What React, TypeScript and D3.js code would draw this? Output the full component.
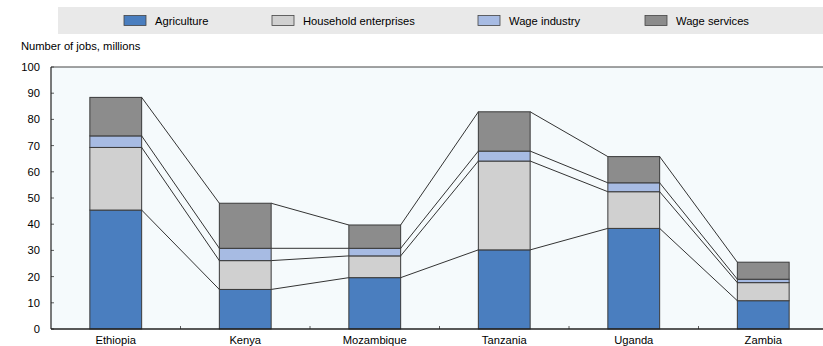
import React from "react";
import * as d3 from "d3";

const countries = ["Ethiopia", "Kenya", "Mozambique", "Tanzania", "Uganda", "Zambia"];
const agriculture = [45.4, 15.1, 19.6, 30.2, 38.4, 10.8];
const householdEnterprises = [23.9, 11.0, 8.3, 33.9, 14.0, 6.9];
const wageIndustry = [4.4, 4.7, 2.9, 3.8, 3.4, 1.3];
const wageServices = [14.7, 17.2, 8.9, 15.0, 10.0, 6.5];
const seriesNames = ["Agriculture", "Household enterprises", "Wage industry", "Wage services"];
const yTicks = [0, 10, 20, 30, 40, 50, 60, 70, 80, 90, 100];

const colors = ["#4A7EBF", "#D0D0D0", "#A7BBE3", "#8C8C8C"];
const FONT = "'Liberation Sans Narrow', 'Arial Narrow', 'Liberation Sans', Arial, sans-serif";

export default function App() {
  const W = 823, H = 346;
  const x0 = 51, x1 = 828, yTop = 67, yBot = 329;
  const x = d3.scaleBand<string>().domain(countries).range([x0, x1]).paddingInner(0.6).paddingOuter(0.3);
  const y = d3.scaleLinear().domain([0, 100]).range([yBot, yTop]);
  const seriesVals = [agriculture, householdEnterprises, wageIndustry, wageServices];
  const rows = countries.map((c, i) => {
    const r: any = { country: c };
    seriesNames.forEach((s, k) => (r[s] = seriesVals[k][i]));
    return r;
  });
  const stacked = d3.stack<any>().keys(seriesNames)(rows);
  const bw = x.bandwidth();
  const step = x.step();

  const legendX = [124, 272, 478, 645];
  const fs = 11.2;

  return (
    <svg width={W} height={H} style={{ position: "absolute", left: 0, top: 0, fontFamily: FONT }}>
      <rect x={0} y={0} width={W} height={H} fill="#fff" />
      {/* legend */}
      <rect x={58} y={7} width={W - 58} height={27} fill="#E9E9E9" />
      {seriesNames.map((s, k) => (
        <g key={s}>
          <rect x={legendX[k]} y={15.5} width={22} height={10} fill={colors[k]} stroke="#444" strokeWidth={0.8} />
          <text x={legendX[k] + 31} y={24.5} fontSize={fs} fill="#000">{s}</text>
        </g>
      ))}
      <text x={21} y={50} fontSize={fs} fill="#000">Number of jobs, millions</text>
      {/* plot background */}
      <rect x={x0} y={yTop} width={x1 - x0} height={yBot - yTop} fill="#F5FAFC" />
      {/* y ticks */}
      {yTicks.map((t) => (
        <g key={t}>
          <line x1={x0} x2={x0 + 3} y1={y(t)} y2={y(t)} stroke="#333" strokeWidth={0.8} />
          <text x={40} y={y(t) + 4} fontSize={fs} textAnchor="end" fill="#000">{t}</text>
        </g>
      ))}
      {/* x band boundary ticks */}
      {countries.slice(1).map((c) => {
        const bx = (x(c) as number) - (step - bw) / 2;
        return <line key={c} x1={bx} x2={bx} y1={yBot} y2={yBot - 3} stroke="#333" strokeWidth={0.8} />;
      })}
      {/* connector lines */}
      {countries.slice(0, -1).map((c, i) => {
        const xa = (x(c) as number) + bw;
        const xb = x(countries[i + 1]) as number;
        return stacked.map((layer, k) => (
          <line key={c + k} x1={xa} y1={y(layer[i][1])} x2={xb} y2={y(layer[i + 1][1])} stroke="#333" strokeWidth={1} />
        ));
      })}
      {/* bars */}
      {stacked.map((layer, k) =>
        layer.map((d, i) => (
          <rect
            key={k + "-" + i}
            x={x(countries[i]) as number}
            y={y(d[1])}
            width={bw}
            height={y(d[0]) - y(d[1])}
            fill={colors[k]}
            stroke="#3a3a3a"
            strokeWidth={1}
          />
        ))
      )}
      {/* frame */}
      <line x1={x0} x2={x1} y1={yTop} y2={yTop} stroke="#444" strokeWidth={1} />
      <line x1={x0} x2={x0} y1={yTop} y2={yBot} stroke="#222" strokeWidth={1.2} />
      <line x1={x0} x2={x1} y1={yBot} y2={yBot} stroke="#222" strokeWidth={1.5} />
      {countries.map((c) => (
        <text key={c} x={(x(c) as number) + bw / 2} y={344} fontSize={fs} textAnchor="middle" fill="#000">{c}</text>
      ))}
    </svg>
  );
}
